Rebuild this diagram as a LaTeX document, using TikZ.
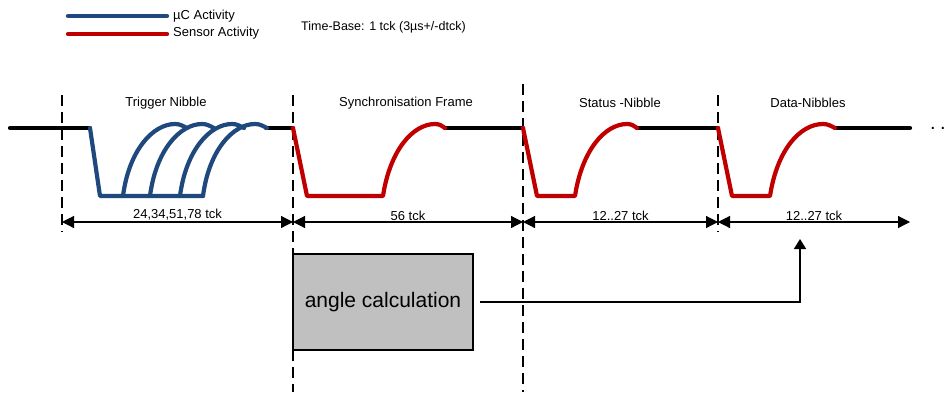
\documentclass[tikz,border=0pt]{standalone}
\usepackage{fontspec}
\setmainfont{Liberation Sans}
\usetikzlibrary{arrows.meta}
\definecolor{uc}{RGB}{31,73,125}
\definecolor{sens}{RGB}{192,0,0}
\definecolor{boxgray}{RGB}{192,192,192}
\tikzset{
  sig/.style={line width=4.2pt, line cap=round, line join=round},
  idle/.style={sig, black},
  ucsig/.style={sig, uc},
  senssig/.style={sig, sens},
  divider/.style={line width=2.8pt, dash pattern=on 11pt off 6pt},
  dimline/.style={line width=1.2pt, {Triangle[length=12pt,width=12pt]}-{Triangle[length=12pt,width=12pt]}},
  lbl/.style={font=\fontsize{13}{15}\selectfont, inner sep=1pt},
  calcbox/.style={draw=black, line width=1.6pt, fill=boxgray, minimum width=180pt, minimum height=96pt, inner sep=0pt, font=\fontsize{21}{24}\selectfont},
}
\begin{document}
\begin{tikzpicture}[x=1pt,y=-1pt]
\useasboundingbox (0,0) rectangle (947,392);
% legend
\coordinate (lgA1) at (68,16); \coordinate (lgA2) at (167,16);
\coordinate (lgB1) at (68,34); \coordinate (lgB2) at (167,34);
\draw[ucsig] (lgA1) -- (lgA2);
\draw[senssig] (lgB1) -- (lgB2);
\node[lbl, anchor=west] (lgtA) at (172,16) {µC Activity};
\node[lbl, anchor=west] (lgtB) at (172,33) {Sensor Activity};
\node[lbl, anchor=west, font=\fontsize{12.5}{14}\selectfont] (tbase) at (300,27) {Time-Base: 1 tck (3µs+/-dtck)};
% dividers
\coordinate (d1t) at (62,95);  \coordinate (d1b) at (62,232);
\coordinate (d2t) at (293,95); \coordinate (d2b) at (293,392);
\coordinate (d3t) at (523,84); \coordinate (d3b) at (523,392);
\coordinate (d4t) at (718,95); \coordinate (d4b) at (718,232);
% gray box behind divider
\node[calcbox] (calc) at (383,302) {angle calculation};
\draw[divider] (d1t) -- (d1b);
\draw[divider] (d2t) -- (d2b);
\draw[divider] (d3t) -- (d3b);
\draw[divider] (d4t) -- (d4b);
% idle lines
\draw[idle] (10,128) -- (90,128);
\draw[idle] (266,128) -- (293,128);
\draw[idle] (445,128) -- (523,128);
\draw[idle] (637,128) -- (718,128);
\draw[idle] (835,128) -- (910,128);
\node[anchor=base west, inner sep=0pt, font=\fontsize{20}{22}\selectfont\addfontfeatures{LetterSpace=22}] (dots) at (930,129.5) {...};
% trigger nibble
\draw[ucsig] (90,128) -- (100,196) -- (203,196);
\foreach \s in {123,150,180,203}{
  \draw[ucsig] (\s,196) .. controls (\s+6,150) and (\s+30,124) .. (\s+52,124) .. controls (\s+57,124) and (\s+60,126) .. (\s+64,128);
}
% sync frame
\draw[senssig] (293,128) -- (307,196) -- (383,196) .. controls (390,150) and (413,124) .. (435,124) .. controls (440,124) and (442,126) .. (445,128);
% status nibble
\draw[senssig] (523,128) -- (537,196) -- (575,196) .. controls (582,150) and (605,124) .. (627,124) .. controls (632,124) and (634,126) .. (637,128);
% data nibble
\draw[senssig] (718,128) -- (732,196) -- (770,196) .. controls (777,150) and (800,124) .. (823,124) .. controls (828,124) and (831,126) .. (835,128);
% labels
\node[lbl] (ltrig) at (166,103) {Trigger Nibble};
\node[lbl] (lsync) at (406,103) {Synchronisation Frame};
\node[lbl] (lstat) at (620,103) {Status -Nibble};
\node[lbl] (ldata) at (808,103) {Data-Nibbles};
% dimensions
\coordinate (m1) at (62,222); \coordinate (m2) at (293,222);
\coordinate (m3) at (523,222); \coordinate (m4) at (718,222);
\coordinate (m5) at (910,222);
\draw[dimline] (m1) -- node[lbl, above=0pt] (t1) {24,34,51,78 tck} (m2);
\draw[dimline] (m2) -- node[lbl, above=0pt] (t2) {56 tck} (m3);
\draw[dimline] (m3) -- node[lbl, above=0pt] (t3) {12..27 tck} (m4);
\draw[dimline] (m4) -- node[lbl, above=0pt] (t4) {12..27 tck} (m5);
% result arrow
\coordinate (rtip) at (800,239);
\draw[line width=1.6pt, -{Triangle[length=10pt,width=12pt]}] ([xshift=6pt]calc.east) -| (rtip);
\end{tikzpicture}
\end{document}
